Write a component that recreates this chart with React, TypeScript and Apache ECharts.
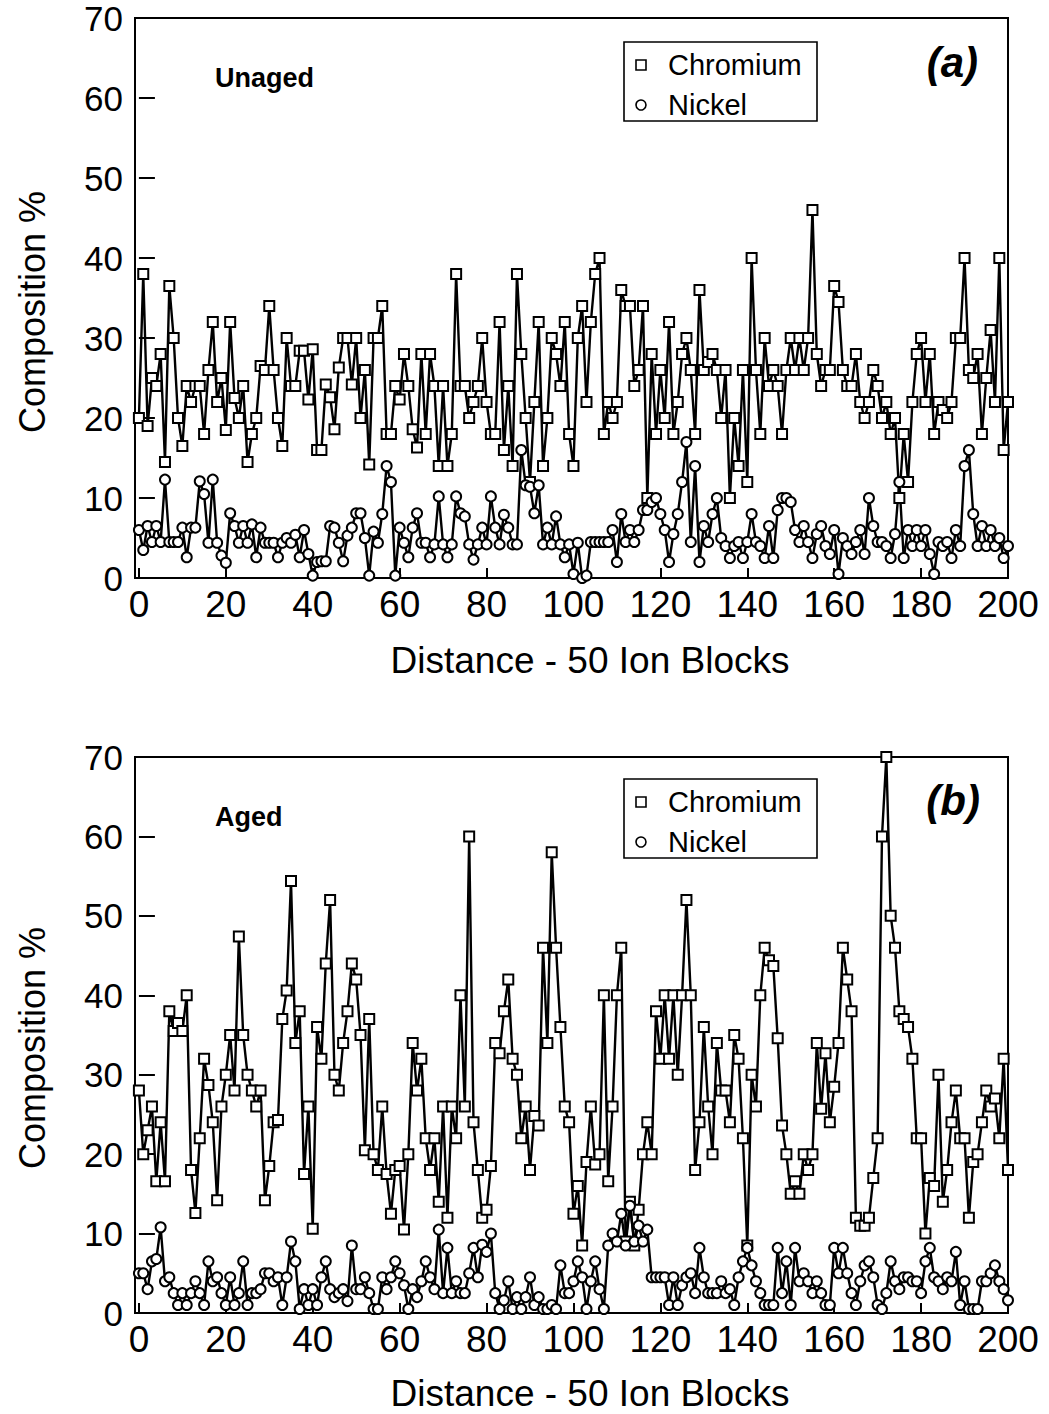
import React, { useEffect, useRef } from "react";
import * as echarts from "echarts";

const xTickValues = [0, 20, 40, 60, 80, 100, 120, 140, 160, 180, 200];

const unagedChromium = [
  20, 38, 19, 25, 24, 28, 14.5, 36.5, 30, 20,
  16.5, 24, 22, 24, 24, 18, 26, 32, 22, 25,
  18.5, 32, 22.5, 20, 24, 14.5, 18, 20, 26.5, 26,
  34, 26, 20, 16.5, 30, 24, 24, 28.4, 28.4, 22.3,
  28.6, 16, 16, 24.2, 22.6, 18.6, 26.3, 30, 30, 24.2,
  30, 20, 26, 14.2, 30, 30, 34, 18, 18, 24,
  22.3, 28, 24, 18.6, 16.3, 28, 18, 28, 24, 14,
  24, 14, 18, 38, 24, 24, 20, 22, 24, 30,
  22, 18, 18, 32, 16, 24, 14, 38, 28, 20,
  12, 22, 32, 14, 20, 30, 28, 24, 32, 18,
  14, 30, 34, 22, 32, 38, 40, 18, 22, 20,
  22, 36, 34, 34, 24, 26, 34, 10, 28, 18,
  26, 20, 32, 18, 22, 28, 30, 26, 18, 36,
  26, 27, 28, 26, 20, 26, 10, 20, 14, 26,
  12, 40, 26, 18, 30, 24, 26, 24, 18, 26,
  30, 26, 30, 26, 30, 46, 28, 24, 26, 26,
  36.5, 34.5, 26, 24, 24, 28, 22, 20, 22, 26,
  24, 20, 22, 18, 20, 10, 18, 12, 22, 28,
  30, 22, 28, 18, 22, 21, 20, 22, 30, 30,
  40, 26, 25, 28, 18, 25, 31, 22, 40, 16,
  22,
];

const unagedNickel = [
  6, 3.5, 6.5, 4.5, 6.5, 4.5, 12.3, 4.5, 4.5, 4.5,
  6.3, 2.6, 6.3, 6.3, 12.1, 10.5, 4.4, 12.3, 4.4, 2.8,
  1.9, 8.1, 6.5, 4.4, 6.5, 4.4, 6.7, 2.6, 6.3, 4.4,
  4.4, 4.4, 2.6, 4.4, 5, 4.4, 5.4, 2.6, 6, 3,
  0.3, 2, 2.1, 2.1, 6.5, 6.3, 4.4, 2.1, 5.3, 6.3,
  8.1, 8.1, 5, 0.3, 5.8, 4.4, 8, 14, 12, 0.3,
  6.3, 4.4, 2.6, 6.3, 8.1, 4.4, 4.4, 2.6, 4.2, 10.2,
  4.2, 2.6, 4.2, 10.2, 8.1, 7.7, 4.2, 2.3, 4.2, 6.3,
  4.2, 10.2, 6.3, 4.2, 7.9, 6.3, 4.2, 4.2, 16, 11.6,
  11.4, 8.1, 11.6, 4.2, 6.3, 4.2, 7.7, 4.2, 2.6, 4.2,
  0.5, 4.4, 0, 0.3, 4.5, 4.5, 4.5, 4.5, 4.5, 6,
  2, 8, 4.5, 6, 4.5, 6, 8.5, 8.5, 9.5, 10,
  8, 6, 2, 5.5, 8, 12, 17, 4.5, 14, 2,
  6.5, 4.5, 8, 10, 5, 4, 2.5, 4, 4.5, 2.5,
  4.5, 8, 4.5, 4, 2.5, 6.5, 2.5, 8.5, 10, 10,
  9.5, 6, 4.5, 6.5, 4.5, 2.5, 5.5, 6.5, 4, 3,
  6, 0.5, 5, 4, 3, 4.5, 6, 3, 10, 6.5,
  4.5, 4.5, 4, 2.5, 5.5, 12, 2.5, 6, 4, 6,
  4, 6, 3, 0.5, 4.5, 4, 4.5, 2.5, 6, 4,
  14, 16, 8, 4, 6.5, 4, 6, 4, 5, 2.5,
  4,
];

const agedChromium = [
  28, 20, 23, 26, 16.6, 24, 16.6, 38, 35.5, 36.5,
  35.5, 40, 18, 12.6, 22, 32, 28.7, 24, 14.2, 26,
  30, 35, 28, 47.4, 35, 30, 28, 26, 28, 14.2,
  18.5, 24, 24.3, 37, 40.6, 54.4, 34, 38, 17.5, 26,
  10.6, 36, 32, 44, 52, 30, 28, 34, 38, 44,
  42, 35, 20.5, 37, 20, 18, 26, 17.5, 12.5, 18,
  18.5, 10.5, 20, 34, 28, 32, 22, 18, 22, 14,
  26, 12, 26, 22, 40, 26, 60, 24, 18, 12,
  13, 18.5, 34, 32.7, 38, 42, 32, 30, 22, 26,
  18, 24.8, 23.6, 46, 34, 58, 46, 36, 26, 24,
  12.5, 16, 8.5, 19, 26, 18.7, 20, 40, 16.6, 26,
  40, 46, 9, 14, 8.5, 13, 20, 24, 20, 38,
  32, 40, 32, 40, 30, 40, 52, 40, 18, 24,
  36, 26, 20, 34, 28, 28, 24, 35, 32, 22,
  8.5, 30, 26, 40, 46, 44.4, 43.7, 34.6, 23.6, 20,
  15, 16.6, 15, 20, 18, 20, 34, 25.7, 32.7, 24,
  28.5, 34, 46, 42, 38, 12, 11, 11, 12, 17,
  22, 60, 70, 50, 46, 38, 37, 36, 32, 22,
  22, 10, 17, 16, 30, 14, 18, 24, 28, 22,
  22, 12, 19, 20, 24, 28, 26, 27, 22, 32,
  18,
];

const agedNickel = [
  5, 5, 3, 6.5, 6.8, 10.8, 4, 4.5, 2.5, 1,
  2.5, 1, 2.5, 4, 2.5, 1, 6.5, 4, 4.5, 2.5,
  1, 4.5, 1, 2.5, 6.5, 1, 2.5, 2.5, 3, 5,
  5, 4, 4.5, 1, 4.5, 9, 6.5, 0.5, 3, 1,
  3, 1, 4.5, 6.5, 3, 2, 2.5, 3, 1.5, 8.5,
  3, 3, 4.5, 2.5, 0.5, 0.5, 4.5, 3, 4.5, 6.5,
  5, 3.5, 0.5, 3, 2, 4, 6.5, 4.5, 3, 10.5,
  2.5, 8.2, 2.5, 4, 2.5, 2.5, 5, 8.2, 4.5, 8.6,
  7.7, 10, 2.5, 0.5, 1.6, 4, 0.5, 2, 0.5, 2,
  4.5, 1, 2, 0.5, 0.5, 1, 0.5, 6, 2.5, 2.5,
  4, 6.5, 4.5, 0.5, 4, 6.5, 3, 0.5, 8.5, 10,
  9, 12.5, 8.5, 13.5, 9, 11, 9, 10.5, 4.5, 4.5,
  4.5, 4.5, 1, 4.5, 1, 3.5, 4.5, 5, 2.5, 8.2,
  4.5, 2.5, 2.5, 2.5, 4, 2.5, 3, 1, 4.5, 6.5,
  8.2, 6, 4, 2.5, 1, 1, 1, 8.2, 2.5, 6.5,
  1, 8.2, 4, 5, 4, 2.5, 4, 2.5, 1, 1,
  8.2, 5, 8.2, 5, 2.5, 1, 4, 6, 6.5, 4.5,
  1, 0.5, 2.5, 6.5, 4, 3, 4.5, 4.5, 4, 4,
  2.5, 6.5, 8.2, 4.5, 4, 3, 4.5, 4, 7.7, 1,
  4, 0.5, 0.5, 0.5, 4, 4, 5, 6, 4, 3,
  1.6,
];

const FONT = "'Liberation Sans', Arial, Helvetica, sans-serif";

function toPairs(arr: number[]) {
  return arr.map((v, i) => [i, v]);
}

function makeSeries(name: string, data: number[], axis: number, symbol: string, size: number) {
  return {
    name,
    type: "line",
    xAxisIndex: axis,
    yAxisIndex: axis,
    data: toPairs(data),
    symbol,
    symbolSize: size,
    showAllSymbol: true,
    clip: false,
    itemStyle: { color: "#fff", borderColor: "#000", borderWidth: 2 },
    lineStyle: { color: "#000", width: 2.4 },
    emphasis: { disabled: true },
  };
}

function makeXAxis(grid: number) {
  return {
    type: "value",
    gridIndex: grid,
    min: -0.9,
    max: 200,
    axisLine: { show: false },
    splitLine: { show: false },
    axisTick: { show: true, inside: true, length: 10, lineStyle: { color: "#000", width: 2 }, customValues: xTickValues },
    axisLabel: { color: "#000", fontSize: 37, fontFamily: FONT, margin: 8, customValues: xTickValues },
  };
}

function makeYAxis(grid: number) {
  return {
    type: "value",
    gridIndex: grid,
    min: 0,
    max: 70,
    interval: 10,
    axisLine: { show: false },
    splitLine: { show: false },
    axisTick: { show: true, inside: true, length: 16, lineStyle: { color: "#000", width: 2 } },
    axisLabel: { color: "#000", fontSize: 35, lineHeight: 35, fontFamily: FONT, margin: 12 },
  };
}

function legendGraphics(dy: number) {
  return [
    { type: "rect", shape: { x: 624, y: 42 + dy, width: 193, height: 79 }, style: { fill: "#fff", stroke: "#000", lineWidth: 1.6 }, z: 10 },
    { type: "rect", shape: { x: 636, y: 60 + dy, width: 10, height: 10 }, style: { fill: "#fff", stroke: "#000", lineWidth: 1.6 }, z: 11 },
    { type: "circle", shape: { cx: 641, cy: 105 + dy, r: 5 }, style: { fill: "#fff", stroke: "#000", lineWidth: 1.6 }, z: 11 },
    { type: "text", x: 668, y: 65 + dy, style: { text: "Chromium", font: `29px ${FONT}`, fill: "#000", textAlign: "left", textVerticalAlign: "middle" }, z: 11 },
    { type: "text", x: 668, y: 105 + dy, style: { text: "Nickel", font: `29px ${FONT}`, fill: "#000", textAlign: "left", textVerticalAlign: "middle" }, z: 11 },
  ];
}

export default function App() {
  const ref = useRef<HTMLDivElement>(null);
  useEffect(() => {
    document.body.style.margin = "0";
    const chart = echarts.init(ref.current as HTMLDivElement, null, { renderer: "svg" });
    const option = {
      animation: false,
      backgroundColor: "#fff",
      grid: [
        { left: 135, top: 18, width: 873, height: 560, show: true, borderColor: "#000", borderWidth: 2, backgroundColor: "transparent" },
        { left: 135, top: 757, width: 873, height: 556, show: true, borderColor: "#000", borderWidth: 2, backgroundColor: "transparent" },
      ],
      xAxis: [makeXAxis(0), makeXAxis(1)],
      yAxis: [makeYAxis(0), makeYAxis(1)],
      series: [
        makeSeries("Chromium", unagedChromium, 0, "rect", 10),
        makeSeries("Nickel", unagedNickel, 0, "circle", 10),
        makeSeries("Chromium", agedChromium, 1, "rect", 10),
        makeSeries("Nickel", agedNickel, 1, "circle", 10),
      ],
      graphic: [
        { type: "text", x: 215, y: 78, style: { text: "Unaged", font: `bold 27px ${FONT}`, fill: "#000", textAlign: "left", textVerticalAlign: "middle" } },
        { type: "text", x: 215, y: 817, style: { text: "Aged", font: `bold 27px ${FONT}`, fill: "#000", textAlign: "left", textVerticalAlign: "middle" } },
        { type: "text", x: 978, y: 62, style: { text: "(a)", font: `italic bold 42px ${FONT}`, fill: "#000", textAlign: "right", textVerticalAlign: "middle" } },
        { type: "text", x: 980, y: 800, style: { text: "(b)", font: `italic bold 42px ${FONT}`, fill: "#000", textAlign: "right", textVerticalAlign: "middle" } },
        { type: "text", x: 590, y: 660, style: { text: "Distance - 50 Ion Blocks", font: `37px ${FONT}`, fill: "#000", textAlign: "center", textVerticalAlign: "middle" } },
        { type: "text", x: 590, y: 1393, style: { text: "Distance - 50 Ion Blocks", font: `37px ${FONT}`, fill: "#000", textAlign: "center", textVerticalAlign: "middle" } },
        { type: "text", x: 32, y: 312, rotation: Math.PI / 2, style: { text: "Composition %", font: `36px ${FONT}`, fill: "#000", textAlign: "center", textVerticalAlign: "middle" } },
        { type: "text", x: 32, y: 1048, rotation: Math.PI / 2, style: { text: "Composition %", font: `36px ${FONT}`, fill: "#000", textAlign: "center", textVerticalAlign: "middle" } },
        ...legendGraphics(0),
        ...legendGraphics(737),
      ],
    };
    chart.setOption(option as any);
    return () => chart.dispose();
  }, []);
  return <div ref={ref} style={{ width: 1049, height: 1414 }} />;
}
